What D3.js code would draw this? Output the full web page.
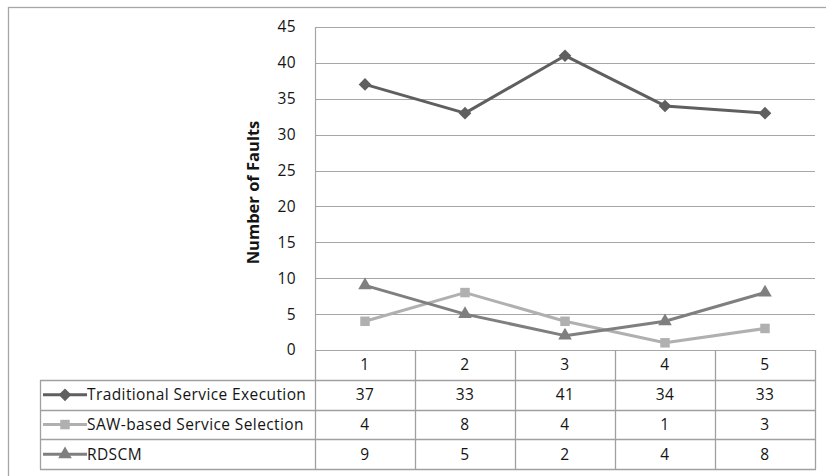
<!DOCTYPE html>
<html>
<head>
<meta charset="utf-8">
<script src="https://cdn.jsdelivr.net/npm/d3@7"></script>
<style>
  html, body { margin: 0; padding: 0; background: #fff; }
  svg text { font-family: "Open Sans", "Liberation Sans", sans-serif; fill: #141414; letter-spacing: 0.4px; }
</style>
</head>
<body>
<svg id="chart" width="826" height="476"></svg>
<script>
// Chart data
const categories = ["1", "2", "3", "4", "5"];
const seriesNames = ["Traditional Service Execution", "SAW-based Service Selection", "RDSCM"];
const traditional = [37, 33, 41, 34, 33];
const sawBased = [4, 8, 4, 1, 3];
const rdscm = [9, 5, 2, 4, 8];
const yTicks = [0, 5, 10, 15, 20, 25, 30, 35, 40, 45];
const yTitle = "Number of Faults";

// Diamond drawn as a square turned by 45 degrees
const rotatedSquare = {
  draw(ctx, size) {
    const r = Math.sqrt(size / 2);
    ctx.moveTo(0, -r); ctx.lineTo(r, 0); ctx.lineTo(0, r); ctx.lineTo(-r, 0); ctx.closePath();
  }
};

const series = [
  { name: seriesNames[0], values: traditional, color: "#5f5f5f", symbol: rotatedSquare, size: 80 },
  { name: seriesNames[1], values: sawBased, color: "#b0b0b0", symbol: d3.symbolSquare, size: 90 },
  { name: seriesNames[2], values: rdscm, color: "#7f7f7f", symbol: d3.symbolTriangle, size: 80 }
];

const fontSize = 15.5;
const svg = d3.select("#chart");
const plot = { left: 315, right: 815, top: 27, bottom: 350 };
const tableLeft = 40;
const headerBottom = 380;
const rowH = 29.7;

const x = d3.scaleBand().domain(categories).range([plot.left, plot.right]);
const y = d3.scaleLinear().domain([0, 45]).range([plot.bottom, plot.top]);

// Outer frame
svg.append("rect")
  .attr("x", 8.5).attr("y", 7.5).attr("width", 900).attr("height", 600)
  .attr("fill", "none").attr("stroke", "#a6a6a6").attr("stroke-width", 1.3);

// Horizontal gridlines
svg.append("g")
  .selectAll("line").data(yTicks).join("line")
  .attr("x1", plot.left).attr("x2", plot.right)
  .attr("y1", d => Math.round(y(d)) + 0.5).attr("y2", d => Math.round(y(d)) + 0.5)
  .attr("stroke", "#a6a6a6").attr("stroke-width", 1.2);

// Left border of plot area
svg.append("line")
  .attr("x1", plot.left + 0.5).attr("x2", plot.left + 0.5)
  .attr("y1", plot.top).attr("y2", plot.bottom)
  .attr("stroke", "#a6a6a6").attr("stroke-width", 1.2);

// Y axis tick labels
const yAxis = d3.axisLeft(y).tickValues(yTicks).tickSize(0).tickPadding(0);
const gy = svg.append("g").attr("transform", `translate(${296},0)`).call(yAxis);
gy.select(".domain").remove();
gy.selectAll("text")
  .attr("font-size", fontSize)
  .attr("font-family", "\"Open Sans\", sans-serif")
  .attr("fill", "#141414");

// Y axis title
svg.append("text")
  .attr("transform", `translate(259,${(plot.top + plot.bottom) / 2 + 4}) rotate(-90)`)
  .attr("text-anchor", "middle")
  .attr("font-size", 16.5)
  .attr("font-weight", "bold")
  .style("letter-spacing", "0px")
  .text(yTitle);

// Series lines and markers
const line = d3.line()
  .x((d, i) => x(categories[i]) + x.bandwidth() / 2)
  .y(d => y(d));

series.forEach(s => {
  svg.append("path")
    .datum(s.values)
    .attr("d", line)
    .attr("fill", "none")
    .attr("stroke", s.color)
    .attr("stroke-width", 3)
    .attr("stroke-linejoin", "round");
  svg.append("g").selectAll("path").data(s.values).join("path")
    .attr("transform", (d, i) => `translate(${x(categories[i]) + x.bandwidth() / 2},${y(d)})`)
    .attr("d", d3.symbol().type(s.symbol).size(s.size))
    .attr("fill", s.color);
});

// Data table
const table = svg.append("g");
const tableStroke = "#a0a0a0";
const rowTop = i => headerBottom + i * rowH;
const tableBottom = rowTop(series.length);

// Category header row
table.selectAll("text.cat").data(categories).join("text")
  .attr("class", "cat")
  .attr("x", d => x(d) + x.bandwidth() / 2)
  .attr("y", (plot.bottom + headerBottom) / 2)
  .attr("dy", "0.35em")
  .attr("text-anchor", "middle")
  .attr("font-size", fontSize)
  .text(d => d);

// Vertical cell borders
const vlines = [plot.left].concat(categories.map(c => x(c) + x.bandwidth()));
table.selectAll("line.v").data(vlines).join("line")
  .attr("x1", d => Math.round(d) + 0.5).attr("x2", d => Math.round(d) + 0.5)
  .attr("y1", plot.bottom).attr("y2", tableBottom)
  .attr("stroke", tableStroke).attr("stroke-width", 1.3);
table.append("line")
  .attr("x1", tableLeft + 0.5).attr("x2", tableLeft + 0.5)
  .attr("y1", headerBottom).attr("y2", tableBottom)
  .attr("stroke", tableStroke).attr("stroke-width", 1.3);

// Horizontal row borders
const hlines = d3.range(series.length + 1).map(rowTop);
table.selectAll("line.h").data(hlines).join("line")
  .attr("x1", tableLeft).attr("x2", plot.right + 1)
  .attr("y1", d => Math.round(d) + 0.5).attr("y2", d => Math.round(d) + 0.5)
  .attr("stroke", tableStroke).attr("stroke-width", 1.3);

// Rows: legend key, series name, values
series.forEach((s, r) => {
  const cy = rowTop(r) + rowH / 2;
  const g = table.append("g");
  g.append("line")
    .attr("x1", 43).attr("x2", 87).attr("y1", cy).attr("y2", cy)
    .attr("stroke", s.color).attr("stroke-width", 3);
  g.append("path")
    .attr("transform", `translate(65,${cy})`)
    .attr("d", d3.symbol().type(s.symbol).size(s.size))
    .attr("fill", s.color);
  g.append("text")
    .attr("x", 87).attr("y", cy).attr("dy", "0.35em")
    .attr("font-size", fontSize)
    .text(s.name);
  g.selectAll("text.val").data(s.values).join("text")
    .attr("class", "val")
    .attr("x", (d, i) => x(categories[i]) + x.bandwidth() / 2)
    .attr("y", cy).attr("dy", "0.35em")
    .attr("text-anchor", "middle")
    .attr("font-size", fontSize)
    .text(d => d);
});
</script>
</body>
</html>
